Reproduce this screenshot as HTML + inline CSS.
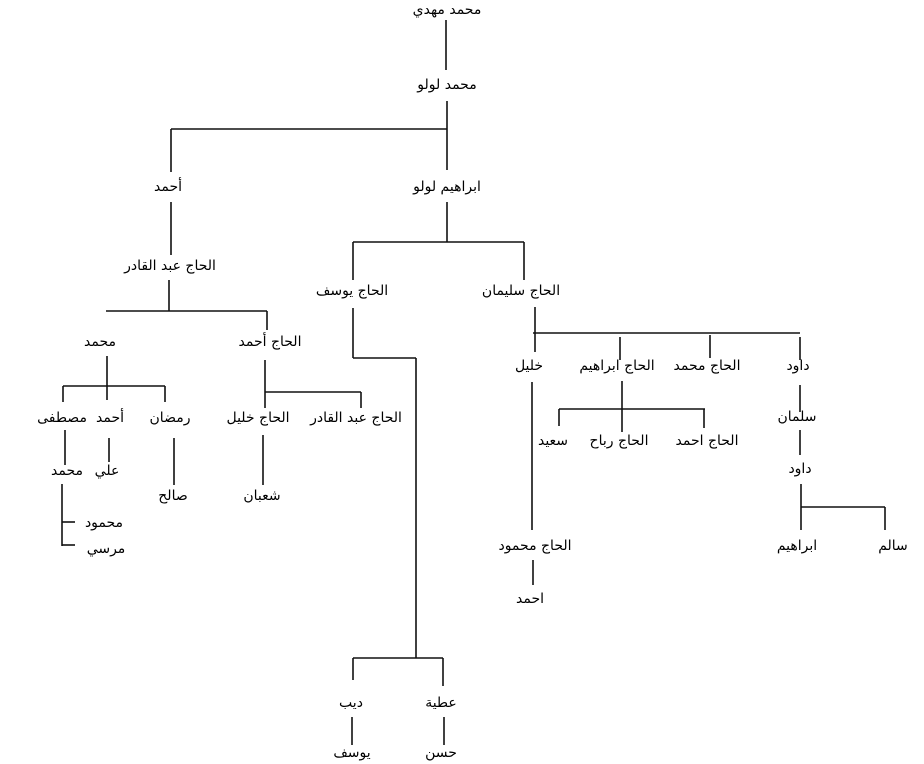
<!DOCTYPE html>
<html><head><meta charset="utf-8"><style>
html,body{margin:0;padding:0;background:#fff;}
svg{display:block;}
text{font-family:"DejaVu Sans","Liberation Sans",sans-serif;font-size:14px;fill:#000;text-anchor:middle;direction:rtl;}
line{stroke:#111;stroke-width:1.6;}
</style></head><body>
<svg width="924" height="764" viewBox="0 0 924 764" xmlns="http://www.w3.org/2000/svg">
<text x="447" y="14">محمد مهدي</text>
<line x1="446" y1="20" x2="446" y2="70"/>
<text x="447" y="89">محمد لولو</text>
<line x1="447" y1="101" x2="447" y2="170"/>
<line x1="171" y1="129" x2="447" y2="129"/>
<line x1="171" y1="129" x2="171" y2="172"/>
<text x="168" y="191">أحمد</text>
<text x="447" y="191">ابراهيم لولو</text>

<line x1="171" y1="202" x2="171" y2="255"/>
<text x="170" y="270">الحاج عبد القادر</text>
<line x1="169" y1="280" x2="169" y2="311"/>
<line x1="106" y1="311" x2="267" y2="311"/>
<line x1="267" y1="311" x2="267" y2="330"/>
<text x="100" y="346">محمد</text>
<text x="270" y="346">الحاج أحمد</text>

<line x1="107" y1="356" x2="107" y2="400"/>
<line x1="63" y1="386" x2="165" y2="386"/>
<line x1="63" y1="386" x2="63" y2="402"/>
<line x1="165" y1="386" x2="165" y2="402"/>
<text x="62" y="422">مصطفى</text>
<text x="110" y="422">أحمد</text>
<text x="170" y="422">رمضان</text>

<line x1="65" y1="430" x2="65" y2="465"/>
<text x="67" y="475">محمد</text>
<line x1="62" y1="484" x2="62" y2="546"/>
<line x1="62" y1="522" x2="75" y2="522"/>
<line x1="62" y1="545" x2="75" y2="545"/>
<text x="104" y="527">محمود</text>
<text x="106" y="553">مرسي</text>

<line x1="109" y1="438" x2="109" y2="462"/>
<text x="107" y="475">علي</text>
<line x1="174" y1="438" x2="174" y2="485"/>
<text x="173" y="500">صالح</text>

<line x1="265" y1="360" x2="265" y2="408"/>
<line x1="265" y1="392" x2="361" y2="392"/>
<line x1="361" y1="392" x2="361" y2="408"/>
<text x="258" y="422">الحاج خليل</text>
<text x="356" y="422">الحاج عبد القادر</text>
<line x1="263" y1="435" x2="263" y2="485"/>
<text x="262" y="500">شعبان</text>

<line x1="447" y1="202" x2="447" y2="242"/>
<line x1="353" y1="242" x2="524" y2="242"/>
<line x1="353" y1="242" x2="353" y2="280"/>
<line x1="524" y1="242" x2="524" y2="280"/>
<text x="352" y="295">الحاج يوسف</text>
<text x="521" y="295">الحاج سليمان</text>

<line x1="353" y1="308" x2="353" y2="358"/>
<line x1="353" y1="358" x2="416" y2="358"/>
<line x1="416" y1="358" x2="416" y2="658"/>
<line x1="353" y1="658" x2="443" y2="658"/>
<line x1="353" y1="658" x2="353" y2="680"/>
<line x1="443" y1="658" x2="443" y2="686"/>
<text x="351" y="707">ديب</text>
<text x="441" y="707">عطية</text>
<line x1="352" y1="717" x2="352" y2="745"/>
<line x1="444" y1="717" x2="444" y2="745"/>
<text x="352" y="757">يوسف</text>
<text x="441" y="757">حسن</text>

<line x1="535" y1="307" x2="535" y2="352"/>
<line x1="533" y1="333" x2="800" y2="333"/>
<line x1="620" y1="337" x2="620" y2="360"/>
<line x1="710" y1="335" x2="710" y2="358"/>
<line x1="800" y1="337" x2="800" y2="360"/>
<text x="529" y="370">خليل</text>
<text x="617" y="370">الحاج ابراهيم</text>
<text x="707" y="370">الحاج محمد</text>
<text x="798" y="370">داود</text>

<line x1="532" y1="382" x2="532" y2="530"/>
<text x="535" y="550">الحاج محمود</text>
<line x1="533" y1="560" x2="533" y2="585"/>
<text x="530" y="603">احمد</text>

<line x1="622" y1="381" x2="622" y2="432"/>
<line x1="559" y1="409" x2="705" y2="409"/>
<line x1="559" y1="409" x2="559" y2="426"/>
<line x1="704" y1="409" x2="704" y2="428"/>
<text x="553" y="445">سعيد</text>
<text x="619" y="445">الحاج رباح</text>
<text x="707" y="445">الحاج احمد</text>

<line x1="800" y1="385" x2="800" y2="412"/>
<text x="797" y="421">سلمان</text>
<line x1="800" y1="430" x2="800" y2="455"/>
<text x="800" y="473">داود</text>
<line x1="801" y1="484" x2="801" y2="530"/>
<line x1="801" y1="507" x2="885" y2="507"/>
<line x1="885" y1="507" x2="885" y2="530"/>
<text x="797" y="550">ابراهيم</text>
<text x="893" y="550">سالم</text>
</svg>
</body></html>
